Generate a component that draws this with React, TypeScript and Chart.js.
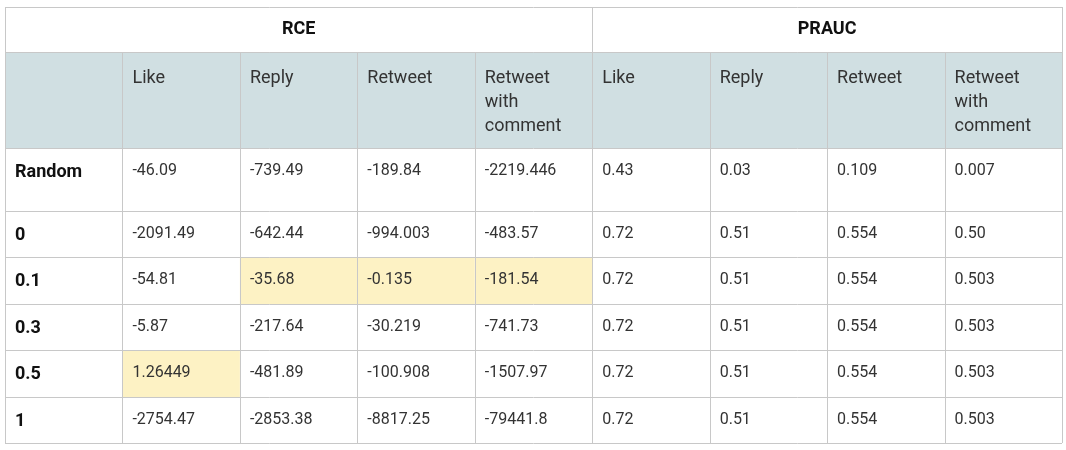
import React, { useEffect, useRef } from 'react';
import { Chart, registerables } from 'chart.js';

Chart.register(...registerables);

const groups = ['RCE', 'PRAUC'];
const metrics = ['Like', 'Reply', 'Retweet', 'Retweet\nwith\ncomment'];
const rowLabels = ['Random', '0', '0.1', '0.3', '0.5', '1'];
const rceValues = [
  ['-46.09', '-739.49', '-189.84', '-2219.446'],
  ['-2091.49', '-642.44', '-994.003', '-483.57'],
  ['-54.81', '-35.68', '-0.135', '-181.54'],
  ['-5.87', '-217.64', '-30.219', '-741.73'],
  ['1.26449', '-481.89', '-100.908', '-1507.97'],
  ['-2754.47', '-2853.38', '-8817.25', '-79441.8'],
];
const praucValues = [
  ['0.43', '0.03', '0.109', '0.007'],
  ['0.72', '0.51', '0.554', '0.50'],
  ['0.72', '0.51', '0.554', '0.503'],
  ['0.72', '0.51', '0.554', '0.503'],
  ['0.72', '0.51', '0.554', '0.503'],
  ['0.72', '0.51', '0.554', '0.503'],
];
// highlighted cells: [row, column]
const highlights = [[2, 2], [2, 3], [2, 4], [4, 1]];

// row heights in table units (layout)
const rowHeights = [45, 96, 63, 46, 47, 46, 47, 46];

const FONT = 'Roboto, Arial, sans-serif';

const App: React.FC = () => {
  const canvasRef = useRef<HTMLCanvasElement>(null);

  useEffect(() => {
    document.body.style.margin = '0';
    if (!canvasRef.current) return;
    const ctx = canvasRef.current.getContext('2d');
    if (!ctx) return;

    const rowTops: number[] = [0];
    rowHeights.forEach((h, i) => rowTops.push(rowTops[i] + h));
    const total = rowTops[rowTops.length - 1];

    const tablePlugin = {
      id: 'table',
      afterDraw(chart: any) {
        const c = chart.ctx as CanvasRenderingContext2D;
        const xs = chart.scales.x;
        const ys = chart.scales.y;
        const X = (v: number) => xs.getPixelForValue(v);
        const Y = (v: number) => ys.getPixelForValue(v);
        c.save();
        // header background
        c.fillStyle = '#d0dfe2';
        c.fillRect(X(0), Y(rowTops[1]), X(9) - X(0), Y(rowTops[2]) - Y(rowTops[1]));
        // highlights
        c.fillStyle = '#fdf2c4';
        highlights.forEach(([r, col]) => {
          const top = rowTops[r + 2];
          c.fillRect(X(col), Y(top), X(col + 1) - X(col), Y(top + rowHeights[r + 2]) - Y(top));
        });
        // grid
        c.strokeStyle = '#c8c8c8';
        c.lineWidth = 1;
        c.beginPath();
        rowTops.forEach((t) => {
          const y = Math.round(Y(t)) + 0.5;
          c.moveTo(X(0), y);
          c.lineTo(X(9), y);
        });
        for (let i = 0; i <= 9; i++) {
          const x = Math.round(X(i)) + 0.5;
          const from = i === 0 || i === 5 || i === 9 ? 0 : rowTops[1];
          c.moveTo(x, Y(from));
          c.lineTo(x, Y(total));
        }
        c.stroke();
        // group headers
        c.fillStyle = '#111';
        c.font = `bold 18px ${FONT}`;
        c.textAlign = 'center';
        c.textBaseline = 'middle';
        const gy = Y(rowHeights[0] / 2);
        c.fillText(groups[0], (X(0) + X(5)) / 2, gy);
        c.fillText(groups[1], (X(5) + X(9)) / 2, gy);
        // metric headers
        c.textAlign = 'left';
        c.font = `18px ${FONT}`;
        c.fillStyle = '#333';
        [...metrics, ...metrics].forEach((m, i) => {
          m.split('\n').forEach((line, j) => {
            c.fillText(line, X(i + 1) + 10, Y(rowTops[1] + 26 + j * 24));
          });
        });
        // rows
        rowLabels.forEach((label, r) => {
          const y = Y(rowTops[r + 2] + 23);
          c.font = `bold 18px ${FONT}`;
          c.fillStyle = '#111';
          c.fillText(label, X(0) + 10, y + 1);
          c.font = `16px ${FONT}`;
          c.fillStyle = '#333';
          [...rceValues[r], ...praucValues[r]].forEach((v, i) => {
            c.fillText(v, X(i + 1) + 10, y);
          });
        });
        c.restore();
      },
    };

    const chart = new Chart(ctx, {
      type: 'scatter',
      data: { datasets: [] },
      options: {
        animation: false,
        responsive: true,
        maintainAspectRatio: false,
        layout: { padding: { left: 5, right: 4, top: 7, bottom: 7 } },
        plugins: { legend: { display: false }, tooltip: { enabled: false } },
        scales: {
          x: { type: 'linear', min: 0, max: 9, display: false },
          y: { type: 'linear', min: 0, max: total, reverse: true, display: false },
        },
      },
      plugins: [tablePlugin],
    });

    return () => chart.destroy();
  }, []);

  return (
    <div style={{ width: 1066, height: 450, position: 'relative', background: '#fff' }}>
      <canvas ref={canvasRef} />
    </div>
  );
};

export default App;
